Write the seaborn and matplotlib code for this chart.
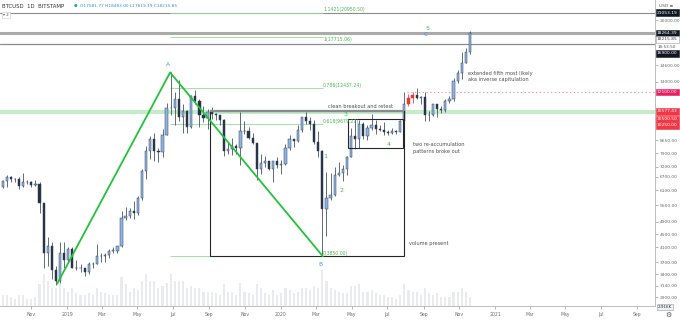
import numpy as np
import pandas as pd
import matplotlib
matplotlib.use("Agg")
import matplotlib.pyplot as plt
import matplotlib.dates as mdates
from matplotlib.patches import Rectangle
from matplotlib.ticker import NullLocator
import seaborn as sns

# ---------------- data (weekly candles, BTCUSD Bitstamp) ----------------
first_week = "2018-09-10"
first_open = 6250
week_close = [6500, 6700, 6600, 6600, 6300, 6450, 6450, 6350, 6400, 5600, 3950, 4150, 3500, 3250, 3950, 3750, 4050,
              3550, 3550, 3550, 3450, 3650, 3650, 3850, 3850, 3900, 4000, 4000, 4150, 5050, 5100, 5300, 5200, 5800,
              7000, 8000, 8700, 8000, 7950, 8950, 10800, 10800, 11500, 10200, 10600, 9500, 11800, 11400, 10300,
              10100, 10500, 10400, 10300, 9950, 8050, 8150, 8300, 8200, 9250, 9200, 8800, 8500, 7100, 7400, 7500,
              7100, 7500, 7300, 7350,
              8200, 8700, 8600, 9300, 10150, 9900, 9700, 8550, 8050, 5350, 5800, 5900, 6800, 6900, 7100, 7700,
              8900, 8750, 9700, 8900, 9450, 9650, 9350, 9300, 9150, 9100, 9250, 9180, 9900, 11100, 11600, 11900,
              11650, 11700, 10300, 10330, 11100, 10750, 10650, 11350, 11500, 13050, 13780, 14850, 15950, 18215.85]
week_high = [6550, 6800, 6750, 6650, 6700, 6900, 6550, 6500, 6550, 6450, 5600, 4400, 4250, 3600, 4250, 4250, 4100,
             4100, 3750, 3650, 3550, 3700, 3700, 4200, 3950, 3950, 4050, 4100, 4150, 5300, 5450, 5400, 5650, 5850,
             7100, 8300, 8900, 9100, 8200, 9350, 11200, 13880, 12100, 13200, 11100, 10650, 11900, 12300, 11500,
             10950, 10750, 10900, 10450, 10350, 10050, 8500, 8800, 8400, 10500, 9900, 9500, 9100, 8500, 7850, 7750,
             7450, 7500, 7700, 7550,
             8450, 9000, 8750, 9600, 10150, 10500, 10200, 9950, 9200, 8100, 6950, 6900, 7200, 7450, 7300, 7750,
             9450, 10000, 9950, 9850, 9600, 10400, 9950, 9600, 9800, 9300, 9450, 9300, 9950, 12100, 11950, 12100,
             12450, 11750, 12100, 10600, 11150, 11150, 10950, 11500, 11750, 13350, 14100, 15950, 16450, 18483]
week_low = [6200, 6250, 6450, 6450, 6150, 6250, 6400, 6250, 6300, 5200, 3550, 3600, 3300, 3150, 3200, 3550, 3700,
            3550, 3500, 3450, 3350, 3400, 3550, 3650, 3700, 3700, 3800, 3950, 3950, 4100, 4950, 5050, 5000, 5150,
            5700, 6600, 7600, 7500, 7450, 7700, 8950, 10300, 9650, 9900, 9100, 9100, 9400, 11100, 9500,
            9800, 9350, 10000, 9950, 9600, 7750, 7850, 7800, 7850, 7300, 9050, 8700, 8400, 6550, 6850, 7200,
            7050, 6450, 7150, 6850,
            7300, 8100, 8250, 8550, 9150, 9700, 9300, 8450, 7700, 3850, 4450, 5700, 5850, 6750, 6500, 6800,
            7700, 8150, 8200, 8700, 8650, 9300, 9050, 9200, 8950, 8950, 9050, 9050, 9150, 9900, 11000, 11200,
            11550, 11100, 9900, 9900, 10250, 10150, 10450, 10550, 11250, 11400, 12900, 13300, 14800, 15800]
# average daily volume per week (K BTC)
week_volume = [3, 3, 2.5, 2, 3, 3, 2, 2, 2.5, 6, 9, 7, 5, 5, 6, 5, 4,
               5, 3.5, 3, 3, 3.5, 3, 5, 4, 3.5, 3, 3, 3, 8, 6, 4, 5, 4.5, 7, 9, 7, 7, 5, 5.5, 6.5, 9, 7, 7, 7, 5,
               5.5, 5, 5, 4, 4, 4, 3.5, 3, 6, 4, 4, 3, 6.5, 4, 3.5, 3, 6, 5, 3.5, 3, 4.5, 3, 3.5,
               5, 4.5, 3.5, 4, 5, 5, 4.5, 5.5, 5, 10, 7, 5, 4.5, 4, 3.5, 3.5, 5.5, 5.5, 6, 4, 4, 4.5, 3.5, 3, 3,
               2.5, 2.5, 2, 3, 6, 4.5, 4, 4, 3, 5, 3.5, 3, 3.5, 2.5, 2.5, 2.5, 4, 4, 5, 4, 2.5]
highlight_weeks = ["2020-08-03", "2020-08-10"]

# drawings
wave_dates = ["2018-12-15", "2019-06-26", "2020-03-13"]
wave_prices = [3180, 13880, 3850]
wave_names = ["", "A", "B"]
fib_levels = ["0", "0.618", "0.786", "1", "1.1421"]
fib_prices = [3850.00, 9679.27, 12437.24, 17715.06, 20950.50]
gray_levels = [21053.19, 18264.39, 16900.00]
green_level = 10500.50
pink_level = 12100.00
big_box = (["2019-09-02", "2020-07-29"], [3850, 10577.43])
small_box = (["2020-04-24", "2020-07-27"], [8200, 10030])
price_ticks = [20000, 14600, 13000, 8650, 7900, 7200, 6700, 6100, 5500, 4900, 4500, 4100, 3700, 3400, 3140, 2900]
time_ticks = ["2018-11-01", "2019-01-01", "2019-03-01", "2019-05-01", "2019-07-01", "2019-09-01", "2019-11-01",
              "2020-01-01", "2020-03-01", "2020-05-01", "2020-07-01", "2020-09-01", "2020-11-01", "2021-01-01",
              "2021-03-01", "2021-05-01", "2021-07-01", "2021-09-01"]
time_labels = ["Nov", "2019", "Mar", "May", "Jul", "Sep", "Nov", "2020", "Mar", "May", "Jul", "Sep", "Nov",
               "2021", "Mar", "May", "Jul", "Sep"]

# ---------------- figure ----------------
sns.set_theme(style="white")
plt.rcParams["font.family"] = ["DejaVu Sans"]

W, H = 680, 322
fig = plt.figure(figsize=(W / 100, H / 100), dpi=100)
fig.patch.set_facecolor("white")
AXW, AXH = 655, 306
ax = fig.add_axes([0, (H - AXH) / H, AXW / W, AXH / H])
axv = ax.twinx()
ax.set_zorder(axv.get_zorder() + 1)
ax.patch.set_visible(False)

d2n = lambda s: mdates.date2num(pd.Timestamp(s))
xmin = d2n("2018-09-08 12:00")
xmax = d2n("2021-10-01")

weeks = pd.date_range(first_week, periods=len(week_close), freq="7D") + pd.Timedelta(days=3)
xw = mdates.date2num(weeks)
opens = [first_open] + week_close[:-1]
df = pd.DataFrame({"x": xw, "open": opens, "close": week_close, "high": week_high,
                   "low": week_low, "vol": week_volume})
df["up"] = df["close"] >= df["open"]
hl = set(mdates.date2num(pd.to_datetime(highlight_weeks) + pd.Timedelta(days=3)))

# volume
axv.bar(df["x"], df["vol"], width=3.6, color="#e9ebee", linewidth=0)
axv.set_ylim(0, 85)
axv.set_yticks([])
for s in axv.spines.values():
    s.set_visible(False)

# candles
up_face, up_edge, dn_face = "#8fb4e3", "#33455b", "#253042"
for _, r in df.iterrows():
    red = any(abs(r["x"] - h) < 0.5 for h in hl)
    ec = "#e53935" if red else up_edge
    ax.vlines(r["x"], r["low"], r["high"], color=ec, lw=0.55, zorder=3)
    lo, hi = min(r["open"], r["close"]), max(r["open"], r["close"])
    if hi / lo < 1.004:
        hi = lo * 1.004
    fc = "#e53935" if red else (up_face if r["up"] else dn_face)
    ax.bar(r["x"], hi - lo, bottom=lo, width=3.8, color=fc, edgecolor=ec, linewidth=0.35, zorder=4)

ax.set_yscale("log")
ax.set_xlim(xmin, xmax)
ax.set_ylim(2725.8, 22991)

# horizontal levels
ax.axhline(gray_levels[0], color="#8c8c8c", lw=0.8, zorder=2)
ax.axhline(gray_levels[1], color="#aaaaaa", lw=2.2, zorder=2)
ax.axhline(gray_levels[2], color="#8c8c8c", lw=0.9, zorder=2)
ax.axhline(green_level, color="#c2edc9", lw=2.8, zorder=1)
ax.hlines(pink_level, d2n("2020-08-03"), xmax, color="#f28db2", lw=0.8, linestyles=(0, (1.2, 2.2)), zorder=2)

# fib lines
fx0, fx1 = d2n(wave_dates[1]), d2n(wave_dates[2])
for lvl, p in zip(fib_levels, fib_prices):
    ax.hlines(p, fx0, fx1, color="#8fdf95", lw=0.6, zorder=2)

# boxes
for (dates_, prices_), lw in [(big_box, 0.8), (small_box, 0.8)]:
    x0, x1 = d2n(dates_[0]), d2n(dates_[1])
    ax.add_patch(Rectangle((x0, prices_[0]), x1 - x0, prices_[1] - prices_[0], fill=False,
                           ec="#262626", lw=lw, zorder=5))
ax.hlines(big_box[1][1], d2n(big_box[0][0]), d2n(big_box[0][1]), color="#8a8a8a", lw=1.6, zorder=5)

# zig-zag wave
sns.lineplot(x=[d2n(d) for d in wave_dates], y=wave_prices, sort=False, estimator=None,
             color="#22c33a", lw=1.3, ax=ax, zorder=6)

# ---------------- texts ----------------
def tx(px, py, s, **kw):
    kw.setdefault("va", "center")
    kw.setdefault("ha", "left")
    ax.text(px / AXW, (AXH - py) / AXH, s, transform=ax.transAxes, zorder=8, **kw)

ann = dict(color="#4d4d4d", fontsize=3.6)
grn = dict(color="#3cbf4a", fontsize=4.6)
blu = dict(color="#4f8fd6", fontsize=4.2)
fibc = dict(color="#45b84d", fontsize=3.3)

tx(2, 6, "BTCUSD  1D  BITSTAMP", color="#333333", fontsize=3.9)
tx(74, 6, "●", color="#26a69a", fontsize=3.0)
tx(80, 6, "O17581.77 H18483.00 L17619.19 C18215.85", color="#2f8fd0", fontsize=3.1)
tx(3, 15, "▾ 2", color="#555555", fontsize=2.8,
   bbox=dict(boxstyle="square,pad=0.25", fc="white", ec="#cccccc", lw=0.4))

for lvl, p, py in zip(fib_levels, fib_prices, [253, 122, 85, 40, 9]):
    tx(323, py, f"{lvl}({p:.2f})", **fibc)

tx(168, 65, wave_names[1], ha="center", **blu)
tx(320, 265, wave_names[2], ha="center", **blu)
tx(426, 35, "C", ha="center", **blu)
tx(427, 29, "5", ha="center", **grn)
tx(325, 156, "1", ha="center", **grn)
tx(342, 191, "2", ha="center", **grn)
tx(346, 114, "3", ha="center", **grn)
tx(389, 144, "4", ha="center", **grn)

tx(328, 106, "clean breakout and retest", **ann)
tx(413, 144, "two re-accumulation", **ann)
tx(413, 151, "patterns broke out", **ann)
tx(409, 243, "volume present", **ann)
tx(468, 74, "extended fifth most likely", **ann)
tx(468, 80, "aka inverse capitulation", **ann)

# ---------------- axes styling ----------------
ax.yaxis.tick_right()
ax.set_yticks(price_ticks)
ax.set_yticklabels([f"{v:.2f}" for v in price_ticks])
ax.yaxis.set_minor_locator(NullLocator())
ax.set_xticks([d2n(t) for t in time_ticks])
ax.set_xticklabels(time_labels)
ax.xaxis.set_minor_locator(NullLocator())
ax.tick_params(axis="y", which="major", length=2, width=0.5, color="#9a9a9a", labelsize=3.2,
               labelcolor="#6b6b6b", pad=1.5, right=True, left=False)
ax.tick_params(axis="x", which="major", length=2, width=0.5, color="#9a9a9a", labelsize=3.3,
               labelcolor="#6b6b6b", pad=2.5, bottom=True)
for k in ["top", "left"]:
    ax.spines[k].set_visible(False)
for k in ["right", "bottom"]:
    ax.spines[k].set_color("#b3b3b3")
    ax.spines[k].set_linewidth(0.6)
ax.set_xlabel("")
ax.set_ylabel("")
ax.grid(False)


def tag(price, text, fc, tc, dy=0, ec=None):
    ax.annotate(text, xy=(1, price), xycoords=("axes fraction", "data"), xytext=(2, dy),
                textcoords="offset pixels", ha="left", va="center", fontsize=3.2, color=tc,
                annotation_clip=False, zorder=10,
                bbox=dict(boxstyle="square,pad=0.3", fc=fc, ec=ec or fc, lw=0.4))


tag(21053.19, "21053.19", "#131722", "white")
tag(18264.39, "18264.39", "#131722", "white")
tag(18215.85, "18215.85", "white", "#444444", dy=-5.8, ec="#999999")
ax.annotate("18:53:50", xy=(1, 18215.85), xycoords=("axes fraction", "data"), xytext=(3, -13.5),
            textcoords="offset pixels", ha="left", va="center", fontsize=3.0, color="#555555",
            annotation_clip=False)
tag(16900.00, "16900.00", "#131722", "white", dy=-9)
tag(12100.00, "12100.00", "#e91e63", "white")
tag(10577.43, "10577.43", "#f23645", "white")
tag(10500.50, "10500.50", "#f23645", "white", dy=-6.5)
tag(10250.00, "10250.00", "#f23645", "white", dy=-9.5)

fig.text(659 / W, 1 - 6 / H, "USD ≡", fontsize=3.2, color="#555555", va="center", ha="left")
fig.text(658 / W, 1 - 307 / H, "2.916K", fontsize=3.0, color="#333333", va="center", ha="left",
         bbox=dict(boxstyle="square,pad=0.25", fc="#eceff3", ec="#9a9a9a", lw=0.4))
fig.text(668 / W, 1 - 315 / H, "⚙", fontsize=5, color="#555555", va="center", ha="center")

fig.savefig("out.png", dpi=100, facecolor="white")
